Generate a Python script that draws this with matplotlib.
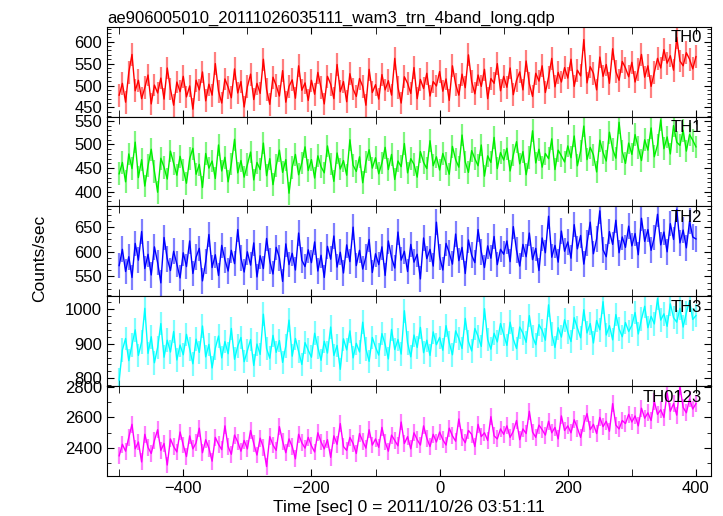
import numpy as np
import matplotlib.pyplot as plt
from matplotlib.ticker import MultipleLocator

plt.rcParams['font.family'] = ['Liberation Sans', 'DejaVu Sans']

# time bins [sec], 5 s step from -500 to 400
time = np.arange(-500, 401, 5)

th0 = [478, 505, 462, 530, 571, 488, 512, 470, 495, 524, 458, 501, 483, 517, 469, 540, 492, 455, 508, 486,
       521, 474, 499, 446, 512, 490, 531, 465, 503, 478, 550, 487, 460, 515, 496, 472, 538, 483, 509, 451,
       497, 526, 468, 505, 482, 560, 491, 457, 519, 500, 476, 534, 462, 498, 513, 471, 545, 489, 506, 466,
       512, 480, 530, 495, 458, 521, 503, 470, 548, 486, 509, 463, 527, 492, 475, 516, 498, 455, 537, 484,
       502, 469, 525, 490, 511, 478, 562, 496, 460, 520, 505, 482, 541, 470, 514, 493, 528, 476, 509, 499,
       532, 487, 515, 466, 545, 503, 478, 526, 495, 570, 509, 481, 524, 498, 537, 470, 516, 505, 550, 488,
       521, 496, 540, 479, 512, 531, 490, 556, 504, 475, 528, 510, 545, 484, 519, 562, 497, 530, 508, 541,
       517, 560, 498, 535, 522, 605, 506, 543, 528, 490, 565, 521, 548, 505, 584, 532, 512, 555, 540, 520,
       553, 508, 536, 571, 519, 545, 498, 530, 562, 540, 582, 551, 568, 535, 610, 556, 545, 575, 560, 538,
       566]
th1 = [438, 462, 421, 480, 449, 505, 430, 468, 412, 455, 490, 443, 399, 471, 452, 427, 486, 460, 435, 475,
       446, 418, 470, 492, 437, 458, 409, 481, 450, 465, 428, 499, 444, 473, 421, 459, 511, 440, 466, 431,
       457, 484, 425, 462, 447, 503, 434, 470, 415, 455, 488, 441, 468, 397, 452, 479, 436, 461, 495, 445,
       468, 429, 476, 453, 440, 497, 459, 422, 482, 448, 466, 435, 510, 456, 443, 474, 419, 463, 489, 450,
       472, 438, 461, 494, 447, 479, 426, 465, 453, 502, 440, 470, 458, 431, 485, 462, 449, 508, 455, 474,
       446, 481, 460, 437, 496, 468, 452, 520, 463, 441, 487, 470, 455, 499, 433, 476, 462, 515, 449, 483,
       467, 492, 444, 478, 506, 459, 485, 436, 473, 529, 461, 490, 452, 481, 470, 512, 447, 488, 476, 463,
       497, 472, 518, 455, 486, 539, 468, 494, 478, 442, 509, 483, 465, 526, 490, 471, 547, 485, 460, 503,
       479, 521, 493, 466, 510, 488, 535, 474, 499, 552, 491, 516, 480, 540, 505, 498, 530, 486, 521, 509,
       495]
th2 = [572, 605, 560, 590, 548, 617, 583, 641, 566, 595, 553, 610, 578, 537, 629, 586, 562, 601, 575, 547,
       598, 570, 622, 556, 589, 607, 541, 580, 635, 568, 594, 552, 613, 584, 561, 603, 576, 645, 587, 559,
       600, 573, 618, 549, 592, 566, 627, 581, 555, 609, 588, 540, 616, 574, 597, 563, 638, 583, 570, 604,
       578, 620, 561, 593, 548, 611, 585, 632, 569, 599, 557, 614, 580, 650, 572, 603, 565, 590, 625, 558,
       596, 574, 610, 552, 622, 588, 567, 640, 583, 601, 560, 615, 579, 595, 545, 628, 586, 605, 571, 660,
       590, 563, 617, 598, 575, 636, 582, 609, 556, 624, 593, 578, 645, 600, 568, 612, 587, 631, 574, 605,
       595, 622, 580, 651, 603, 571, 615, 590, 638, 584, 607, 562, 628, 598, 672, 589, 613, 579, 642, 601,
       620, 587, 655, 606, 633, 575, 618, 660, 596, 626, 683, 604, 590, 641, 615, 664, 598, 630, 609, 652,
       612, 637, 594, 668, 621, 645, 603, 629, 676, 614, 640, 600, 657, 625, 686, 618, 644, 608, 662, 630,
       626]
th3 = [795, 882, 915, 851, 897, 940, 866, 905, 1002, 872, 920, 845, 889, 958, 861, 910, 876, 935, 853, 896,
       868, 927, 884, 842, 913, 875, 951, 862, 898, 830, 887, 922, 859, 906, 871, 944, 855, 893, 918, 848,
       880, 912, 837, 899, 869, 985, 886, 858, 924, 875, 909, 846, 893, 968, 864, 915, 878, 840, 903, 881,
       861, 930, 889, 852, 907, 873, 948, 866, 895, 826, 914, 882, 937, 859, 901, 876, 962, 885, 849, 918,
       890, 867, 929, 898, 856, 941, 883, 912, 870, 995, 902, 862, 925, 889, 947, 874, 910, 866, 934, 897,
       918, 881, 952, 903, 868, 937, 915, 886, 973, 906, 879, 944, 921, 892, 1001, 912, 884, 930, 905, 958,
       926, 895, 962, 913, 886, 948, 930, 904, 981, 921, 897, 955, 938, 910, 1012, 928, 889, 946, 919, 969,
       934, 906, 975, 945, 917, 998, 931, 958, 902, 967, 940, 1021, 925, 952, 911, 984, 943, 920, 961, 935,
       953, 990, 928, 971, 1008, 946, 979, 957, 1030, 968, 986, 950, 1015, 975, 962, 1002, 948, 989, 1024, 970,
       981]
th0123 = [2350, 2425, 2380, 2470, 2555, 2395, 2440, 2310, 2490, 2405, 2365, 2450, 2520, 2385, 2430, 2290, 2460, 2410, 2375, 2505,
          2420, 2345, 2480, 2395, 2435, 2530, 2370, 2455, 2400, 2315, 2470, 2425, 2390, 2545, 2410, 2360, 2485, 2440, 2380, 2450,
          2395, 2515, 2430, 2355, 2465, 2405, 2280, 2475, 2420, 2385, 2540, 2445, 2370, 2460, 2410, 2330, 2490, 2435, 2400, 2470,
          2415, 2375, 2500, 2440, 2395, 2455, 2340, 2480, 2425, 2560, 2410, 2385, 2470, 2430, 2365, 2495, 2445, 2400, 2520, 2420,
          2460, 2405, 2535, 2440, 2380, 2485, 2450, 2415, 2570, 2430, 2475, 2395, 2500, 2455, 2420, 2545, 2465, 2410, 2490, 2440,
          2505, 2455, 2420, 2530, 2480, 2445, 2590, 2470, 2435, 2515, 2490, 2410, 2555, 2475, 2500, 2450, 2605, 2480, 2460, 2525,
          2490, 2545, 2470, 2510, 2580, 2455, 2525, 2495, 2640, 2505, 2470, 2550, 2520, 2485, 2575, 2500, 2535, 2460, 2610, 2515,
          2545, 2500, 2585, 2530, 2470, 2560, 2625, 2520, 2555, 2495, 2600, 2540, 2575, 2510, 2690, 2550, 2525, 2580, 2560, 2620,
          2570, 2610, 2545, 2660, 2595, 2630, 2580, 2705, 2620, 2650, 2600, 2760, 2640, 2690, 2615, 2800, 2665, 2630, 2720, 2655,
          2690]

names = ['TH0', 'TH1', 'TH2', 'TH3', 'TH0123']
series = [th0, th1, th2, th3, th0123]
errors = [26, 24, 26, 34, 55]
colors = ['#ff0000', '#00ee00', '#0000ff', '#00ffff', '#ff00ff']
ylims = [(429, 634), (369, 559), (510, 692), (778, 1037), (2220, 2805)]
major = [50, 50, 50, 100, 200]
minor = [10, 10, 12.5, 20, 100]

fig, axes = plt.subplots(5, 1, sharex=True, figsize=(7.23, 5.16), dpi=100)
fig.subplots_adjust(left=0.148, right=0.983, top=0.948, bottom=0.078, hspace=0)

for ax, name, y, err, c, yl, mj, mn in zip(axes, names, series, errors, colors, ylims, major, minor):
    ax.errorbar(time, y, yerr=err, fmt='none', ecolor=c, alpha=0.5, elinewidth=1.6)
    ax.plot(time, y, color=c, lw=1.0)
    ax.set_ylim(*yl)
    ax.yaxis.set_major_locator(MultipleLocator(mj))
    ax.yaxis.set_minor_locator(MultipleLocator(mn))
    ax.xaxis.set_major_locator(MultipleLocator(200))
    ax.xaxis.set_minor_locator(MultipleLocator(100))
    ax.tick_params(which='both', direction='in', top=True, right=True, labelsize=12)
    ax.tick_params(which='major', length=5)
    ax.tick_params(which='minor', length=3)
    ax.tick_params(axis='x', which='minor', length=5)
    ax.text(0.985, 0.96, name, transform=ax.transAxes, ha='right', va='top', fontsize=12)

axes[-1].set_xlim(-519, 423)
axes[-1].set_xlabel('Time [sec] 0 = 2011/10/26 03:51:11', fontsize=12.5, labelpad=3)
fig.text(0.055, 0.5, 'Counts/sec', rotation=90, va='center', ha='center', fontsize=12.5)
axes[0].set_title('ae906005010_20111026035111_wam3_trn_4band_long.qdp', loc='left', fontsize=12, pad=3)

fig.savefig('out.png')
